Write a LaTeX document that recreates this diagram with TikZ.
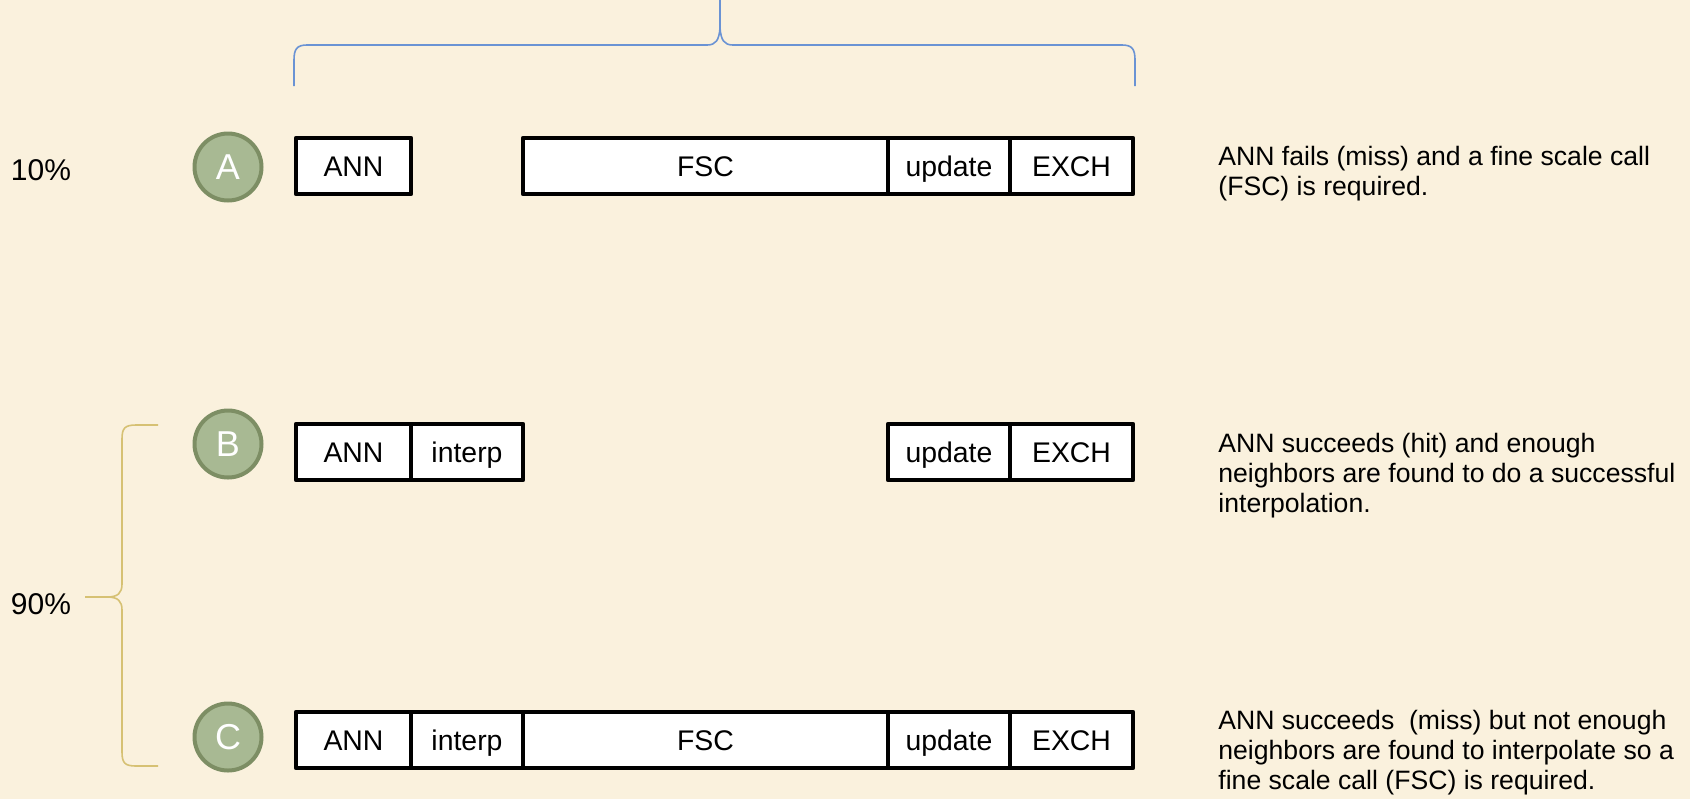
\documentclass[tikz,border=0pt]{standalone}
\usepackage{fontspec}
\setmainfont{Liberation Sans}
\definecolor{paper}{HTML}{FAF1DD}
\definecolor{sage}{HTML}{A8B993}
\definecolor{sagedark}{HTML}{7D8E64}
\definecolor{braceblue}{HTML}{6A93D4}
\definecolor{bracegold}{HTML}{D6C173}
\tikzset{
  task/.style={draw, line width=2.2pt, line join=round, fill=white, minimum width=#1, minimum height=28pt,
    inner sep=0pt, outer sep=0pt, anchor=west, text height=10pt, text depth=0pt,
    font=\fontsize{14.2}{17}\selectfont},
  case/.style={circle, fill=sage, draw=sagedark, line width=2pt, minimum size=33.5pt,
    inner sep=0pt, text=white, font=\fontsize{18}{20}\selectfont},
  note/.style={anchor=north west, align=left, inner sep=0pt, font=\fontsize{13.3}{15}\selectfont},
  pct/.style={font=\fontsize{15}{18}\selectfont}
}
\begin{document}
\begin{tikzpicture}[x=0.5pt, y=-0.5pt]
            \fill[paper] (0,0) rectangle (1690,799);
            \useasboundingbox (0,0) rectangle (1690,799);
            % brace over the whole timeline
            \draw[braceblue, line width=0.8pt] (294,86) -- (294,60) .. controls (294,49) and (297,45) .. (307,45)
                -- (707,45) .. controls (716,45) and (719,40) .. (720,28) -- (720,0);
            \draw[braceblue, line width=0.8pt] (720,28) .. controls (721,40) and (724,45) .. (733,45)
                -- (1122,45) .. controls (1132,45) and (1135,49) .. (1135,60) -- (1135,86);
            % brace grouping the two hit cases
            \draw[bracegold, line width=0.8pt] (158,425) -- (136,425) .. controls (125,425) and (122,428) .. (122,439)
                -- (122,584) .. controls (122,593) and (118,597) .. (107,597) -- (85,597);
            \draw[bracegold, line width=0.8pt] (107,597) .. controls (118,597) and (122,601) .. (122,610)
                -- (122,752) .. controls (122,763) and (125,766) .. (136,766) -- (158,766);
            \node[pct] (pctA) at (41,170) {10\%};
            \node[pct] (pctBC) at (41,604) {90\%};
            % case A: miss, fine scale call
            \node[case] (caseA) at (228,167) {A};
            \node[task=57.5pt] (annA) at (296,166) {ANN};
            \node[task=182.5pt] (fscA) at (523,166) {FSC};
            \node[task=61pt] (updA) at (fscA.east) {update};
            \node[task=61.5pt] (exchA) at (updA.east) {EXCH};
            \node[note] (noteA) at (1218,146) {ANN fails (miss) and a fine scale call\\(FSC) is required.};
            % case B: hit, interpolation only
            \node[case] (caseB) at (228,444) {B};
            \node[task=57.5pt] (annB) at (296,452) {ANN};
            \node[task=56pt] (interpB) at (annB.east) {interp};
            \node[task=61pt] (updB) at (888,452) {update};
            \node[task=61.5pt] (exchB) at (updB.east) {EXCH};
            \node[note] (noteB) at (1218,433) {ANN succeeds (hit) and enough\\neighbors are found to do a successful\\interpolation.};
            % case C: interpolation fails, fine scale call
            \node[case] (caseC) at (228,737) {C};
            \node[task=57.5pt] (annC) at (296,740) {ANN};
            \node[task=56pt] (interpC) at (annC.east) {interp};
            \node[task=182.5pt] (fscC) at (interpC.east) {FSC};
            \node[task=61pt] (updC) at (fscC.east) {update};
            \node[task=61.5pt] (exchC) at (updC.east) {EXCH};
            \node[note] (noteC) at (1218,710) {ANN succeeds\ \ (miss) but not enough\\neighbors are found to interpolate so a\\fine scale call (FSC) is required.};
        \end{tikzpicture}
\end{document}
